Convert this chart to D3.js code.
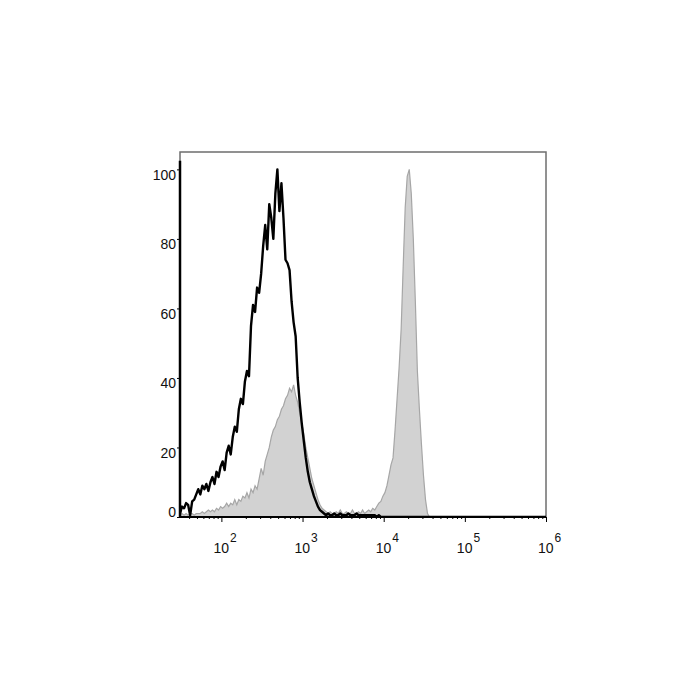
<!DOCTYPE html>
<html>
<head>
<meta charset="utf-8">
<script src="https://cdn.jsdelivr.net/npm/d3@7"></script>
<style>
body { margin: 0; background: #fff; }
svg { display: block; }
</style>
</head>
<body>
<svg></svg>
<script>
var screen = {width: 700, height: 700};
var margins = {top: 152, right: 154, bottom: 183, left: 180};

// histogram channels: log10 start + step per channel
var binLog0 = 1.49;
var binStep = 0.025;

// unstained / isotype (black outline)
var blackCounts = [
  1, 3, 2.5, 4, 3.5, 0.5, 4.5, 5, 6.5, 8,
  6.5, 9, 8, 9.5, 7.5, 10, 11.5, 9.5, 13, 11.5,
  14.5, 16, 13.5, 18.5, 20.5, 18, 23, 26, 24.5, 31,
  34, 32.5, 39, 42, 40.5, 55, 61, 59, 66, 64.5,
  70, 78, 84, 77, 90, 86, 80, 93, 100, 88,
  96, 86, 74, 73, 71, 62, 56, 52, 40, 33,
  27, 22, 17, 13, 10, 8, 6, 4.5, 3, 2,
  1.5, 1, 0.5, 1, 0.5, 0.5, 1, 0.5, 0.5, 1,
  0.5, 0.5, 0.5, 1, 0.5, 0.5, 0.5, 1, 0.5, 0.5,
  0.5, 0.5, 0.5, 0.5, 0.5, 0.5, 0.5, 0, 0.5, 0,
  0, 0, 0, 0, 0, 0, 0, 0, 0, 0,
  0, 0, 0, 0, 0, 0, 0, 0, 0, 0,
  0, 0, 0, 0, 0, 0, 0, 0, 0, 0,
  0, 0, 0, 0, 0, 0, 0, 0, 0, 0,
  0, 0, 0, 0, 0, 0, 0, 0, 0, 0,
  0, 0, 0, 0, 0, 0, 0, 0, 0, 0,
  0, 0, 0, 0, 0, 0, 0, 0, 0, 0,
  0, 0, 0, 0, 0, 0, 0, 0, 0, 0,
  0, 0
];

// stained sample (grey filled)
var greyCounts = [
  0.5, 1, 0.5, 1, 0.5, 1, 1, 0.5, 1, 1,
  1, 1.5, 1, 1.5, 2, 1.5, 2, 1.5, 2.5, 2,
  3, 2.5, 3, 4, 3, 4, 3.5, 5, 3.5, 5,
  4.5, 6, 5.5, 7, 5.5, 8, 7, 9, 8, 11,
  14, 12, 16, 18, 20, 23, 25, 26, 28, 29,
  31, 32, 34, 35, 37, 36, 38, 35, 33, 30,
  27, 24, 20, 17, 14, 11, 9, 7, 5, 3.5,
  2.5, 2, 1.5, 1, 1.5, 1, 1, 1.5, 1, 2,
  1, 1, 1.5, 1, 1, 2, 1, 1, 1.5, 1,
  2, 1, 1.5, 2, 1.5, 2.5, 2, 3, 4, 4.5,
  6, 7, 9, 12, 15, 17, 25, 34, 43, 54,
  72, 89, 98, 100, 93, 80, 62, 42, 31, 21,
  12, 5, 1, 0, 0, 0, 0, 0, 0, 0,
  0, 0, 0, 0, 0, 0, 0, 0, 0, 0,
  0, 0, 0, 0, 0, 0, 0, 0, 0, 0,
  0, 0, 0, 0, 0, 0, 0, 0, 0, 0,
  0, 0, 0, 0, 0, 0, 0, 0, 0, 0,
  0, 0, 0, 0, 0, 0, 0, 0, 0, 0,
  0, 0
];

var yTicks = [0, 20, 40, 60, 80, 100];
var xTicks = [1e2, 1e3, 1e4, 1e5, 1e6];
var xExponents = ["2", "3", "4", "5", "6"];

var width = screen.width - margins.left - margins.right;
var height = screen.height - margins.top - margins.bottom;

var svg = d3.select("svg")
  .attr("width", screen.width)
  .attr("height", screen.height);

var xScale = d3.scaleLog()
  .domain([Math.pow(10, 1.49), 1e6])
  .range([0, width]);

var yScale = d3.scaleLinear()
  .domain([0, 105])
  .range([height, 0]);

var channelX = function(i) { return xScale(Math.pow(10, binLog0 + binStep * i)); };

svg.append("defs").append("clipPath").attr("id", "plotclip")
  .append("rect").attr("width", width).attr("height", height);

var g = svg.append("g")
  .attr("id", "graph")
  .attr("transform", "translate(" + margins.left + "," + margins.top + ")");

// frame (top + right grey)
g.append("rect")
  .attr("width", width)
  .attr("height", height)
  .attr("fill", "none")
  .attr("stroke", "#6e6e6e")
  .attr("stroke-width", 1.5);

var plot = g.append("g").attr("clip-path", "url(#plotclip)");

var area = d3.area()
  .x(function(d, i) { return channelX(i); })
  .y0(yScale(0))
  .y1(function(d) { return yScale(d); });

plot.append("path")
  .datum(greyCounts)
  .attr("d", area)
  .attr("fill", "#d2d2d2")
  .attr("stroke", "#a6a6a6")
  .attr("stroke-width", 1.2);

var line = d3.line()
  .x(function(d, i) { return channelX(i); })
  .y(function(d) { return yScale(d); });

plot.append("path")
  .datum(blackCounts)
  .attr("d", line)
  .attr("fill", "none")
  .attr("stroke", "#000")
  .attr("stroke-width", 2.4)
  .attr("stroke-linejoin", "round");

// left axis
g.append("line")
  .attr("x1", 0).attr("x2", 0)
  .attr("y1", yScale(102.5)).attr("y2", height)
  .attr("stroke", "#000").attr("stroke-width", 2.5);

var yAxis = d3.axisLeft(yScale).tickValues(yTicks).tickSize(3).tickFormat("");
g.append("g").attr("class", "yaxis").call(yAxis)
  .call(function(s) { s.select(".domain").remove(); });

g.selectAll(".ylab")
  .data(yTicks)
  .enter()
  .append("text")
  .attr("class", "ylab")
  .attr("x", -4)
  .attr("y", function(d) { return d == 0 ? yScale(0) : yScale(d) + 10.5; })
  .attr("text-anchor", "end")
  .style("font-family", "'Liberation Sans', Arial, sans-serif")
  .style("font-size", "14px")
  .attr("fill", "#111")
  .text(function(d) { return d; });

// bottom axis
var minorTicks = [];
[1, 2, 3, 4, 5].forEach(function(k) {
  for (var m = 2; m <= 9; m++) minorTicks.push(m * Math.pow(10, k));
});
minorTicks = minorTicks.filter(function(v) { return v >= xScale.domain()[0] && v <= 1e6; });

var xMinor = d3.axisBottom(xScale).tickValues(minorTicks).tickSize(2).tickFormat("");
g.append("g").attr("transform", "translate(0," + height + ")").call(xMinor)
  .call(function(s) { s.select(".domain").remove(); });

var xAxis = d3.axisBottom(xScale).tickValues(xTicks).tickSize(5).tickFormat("");
g.append("g").attr("transform", "translate(0," + height + ")").call(xAxis)
  .call(function(s) { s.select(".domain").remove(); });

g.append("line")
  .attr("x1", 0).attr("x2", width)
  .attr("y1", height).attr("y2", height)
  .attr("stroke", "#000").attr("stroke-width", 2);

var xl = g.selectAll(".xlab")
  .data(xTicks)
  .enter()
  .append("text")
  .attr("class", "xlab")
  .attr("x", function(d) { return xScale(d) - 8; })
  .attr("y", height + 36)
  .style("font-family", "'Liberation Sans', Arial, sans-serif")
  .style("font-size", "14px")
  .attr("fill", "#111");

xl.append("tspan").text("10");
xl.append("tspan")
  .attr("dy", -11)
  .attr("dx", 1)
  .style("font-size", "12px")
  .text(function(d, i) { return xExponents[i]; });
</script>
</body>
</html>
